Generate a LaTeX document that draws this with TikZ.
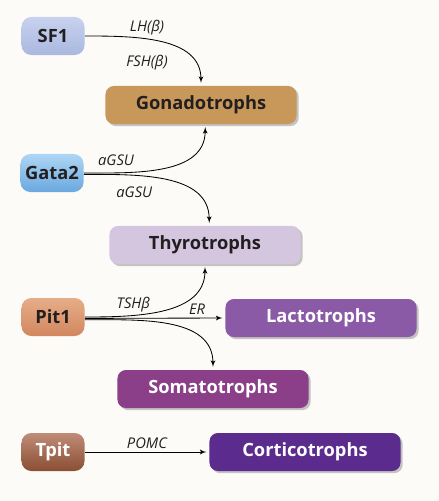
\documentclass[tikz,border=0pt]{standalone}
\usepackage{fontspec}
\setmainfont{Open Sans}
\usetikzlibrary{shapes,arrows,shadows}
\definecolor{paper}{HTML}{FDFBF8}
\definecolor{ink}{HTML}{231F20}
\tikzstyle{cell} = [rectangle, rounded corners=6pt, text centered, text=ink, minimum width=4.775cm, minimum height=0.95cm, font=\fontsize{13}{15}\selectfont\bfseries, drop shadow={shadow xshift=1.5pt, shadow yshift=-1.5pt, opacity=.45}]
\tikzstyle{factor} = [rectangle, rounded corners=7pt, text centered, text=ink, minimum width=1.575cm, minimum height=0.95cm, font=\fontsize{13}{15}\selectfont\bfseries]
\tikzstyle{lbl} = [font=\fontsize{10.5}{12}\selectfont\itshape, text=ink, inner sep=2pt]
\tikzstyle{line} = [draw, -latex', line width=0.6pt, shorten >=2pt]

\begin{document}
\begin{tikzpicture}[x=0.025cm, y=-0.025cm]
      \useasboundingbox (0,0) rectangle (439,501);
      \fill [paper] (0,0) rectangle (439,501);

      % transcription factors
      \node [factor, top color={rgb,255:red,200;green,210;blue,238}, bottom color={rgb,255:red,170;green,184;blue,224}] (sf1) at (53,36) {SF1};
      \node [factor, top color={rgb,255:red,174;green,214;blue,244}, bottom color={rgb,255:red,106;green,168;blue,223}] (gata2) at (52,173) {Gata2};
      \node [factor, top color={rgb,255:red,230;green,173;blue,137}, middle color={rgb,255:red,226;green,166;blue,128}, bottom color={rgb,255:red,210;green,135;blue,94}] (pit1) at (53,317) {Pit1};
      \node [factor, text=white, top color={rgb,255:red,192;green,140;blue,120}, middle color={rgb,255:red,168;green,110;blue,86}, bottom color={rgb,255:red,138;green,78;blue,51}] (tpit) at (53,452) {Tpit};

      % cell types
      \node [cell, fill={rgb,255:red,200;green,151;blue,90}] (gona) at (201,105) {Gonadotrophs};
      \node [cell, fill={rgb,255:red,213;green,198;blue,224}] (thyro) at (205,245) {Thyrotrophs};
      \node [cell, text=white, fill={rgb,255:red,138;green,90;blue,166}] (lacto) at (321,318) {Lactotrophs};
      \node [cell, text=white, fill={rgb,255:red,138;green,63;blue,136}] (somato) at (213,389) {Somatotrophs};
      \node [cell, text=white, fill={rgb,255:red,91;green,44;blue,142}] (cortico) at (305,452) {Corticotrophs};

      \path [line] (sf1.east) to[out=0, in=90] node[lbl, pos=.4, above=1pt] {LH(β)} node[lbl, pos=.4, below=9pt] {FSH(β)} (gona.north);
      \path [line] (gata2.east) to[out=0, in=-90] node[lbl, pos=.2, above=3pt] {aGSU} ([xshift=3pt]gona.south);
      \path [line] ([yshift=-1pt]gata2.east) to[out=0, in=90] node[lbl, pos=.3, below=6pt] {aGSU} ([xshift=3pt]thyro.north);
      \path [line] (pit1.east) to[out=0, in=-90] node[lbl, pos=.3, above] {TSHβ} (thyro.south);
      \path [line] ([yshift=-1pt]pit1.east) -- node[lbl, pos=.8, above] {ER} (lacto.west);
      \path [line] ([yshift=-2pt]pit1.east) to[out=0, in=90] (somato.north);
      \path [line] (tpit.east) -- node[lbl, above] {POMC} (cortico.west);
    \end{tikzpicture}
\end{document}
